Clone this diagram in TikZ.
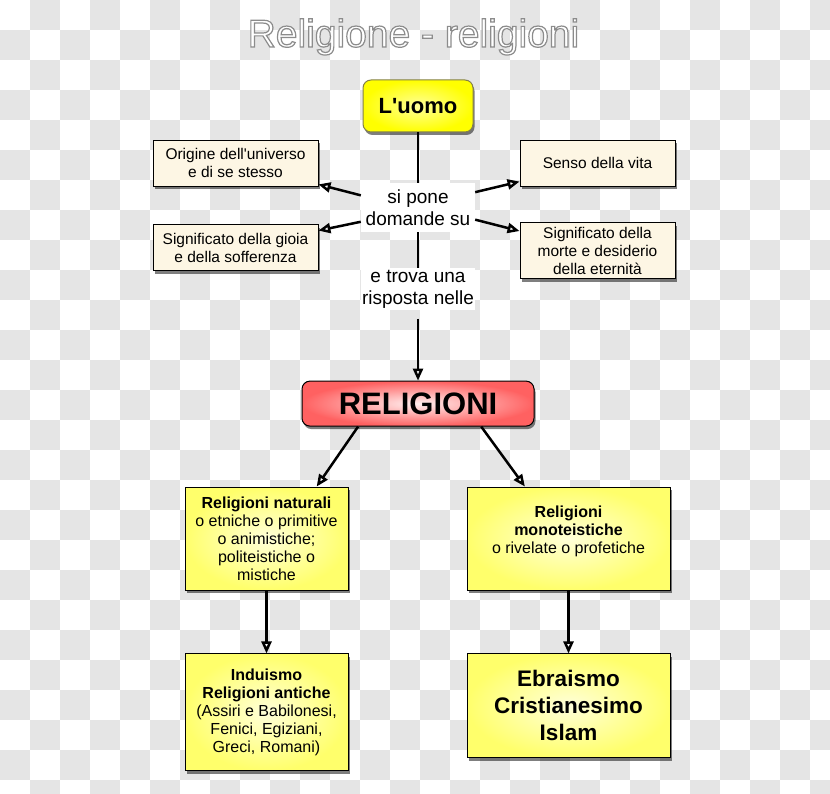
\documentclass[tikz,border=0pt]{standalone}
\usepackage{fontspec}
\setmainfont{Liberation Sans}[Ligatures=TeXOff]
\usetikzlibrary{arrows.meta,positioning,shadows}
\definecolor{crema}{RGB}{253,246,228}
\definecolor{quadro}{RGB}{229,229,229}
% testo bianco con contorno grigio
\newcommand{\contornato}[1]{\special{pdf:literal direct 2 Tr 0.55 G 1.2 w}#1\special{pdf:literal direct 0 Tr}}

\begin{document}
\begin{tikzpicture}[x=1pt, y=-1pt,
    ombra/.style={drop shadow={fill=black, opacity=0.5, shadow xshift=1.5pt, shadow yshift=-3pt}},
    domanda/.style={rectangle, draw, line width=0.9pt, fill=crema, ombra, align=center, inner sep=0pt, minimum height=46pt, font=\fontsize{15.5}{18}\selectfont},
    gruppo/.style={rectangle, draw, line width=0.9pt, ombra, shade, shading=radial, inner color=yellow!15, outer color=yellow!58, align=center, inner sep=0pt, minimum width=163pt, minimum height=103pt, font=\fontsize{16}{18}\selectfont},
    ponte/.style={fill=white, align=center, inner sep=0pt, minimum width=114pt, font=\fontsize{19}{22}\selectfont},
    arrow/.style={-{Triangle[fill=white, length=12pt, width=10pt]}, line width=2.5pt},
    linea/.style={line width=2.5pt}
  ]
    \useasboundingbox (0,0) rectangle (830,794);
    % sfondo a scacchi
    \begin{scope}
      \clip (0,0) rectangle (830,794);
      \foreach \r in {0,...,26}
        \foreach \c in {0,...,13} {
          \pgfmathtruncatemacro\xx{(2*\c+mod(\r+1,2))*30}
          \fill[quadro] (\xx,\r*30) rectangle ++(30,30);
        }
    \end{scope}

    % titolo
    \node[anchor=base, text=white, font=\fontsize{39}{42}\selectfont] (titolo) at (413.5,47) {\contornato{Religione - religioni}};

    \node[rectangle, rounded corners=8pt, draw=black!55!yellow, line width=1pt, ombra, shade, shading=radial, inner color=yellow!40, outer color=yellow, minimum width=110pt, minimum height=52pt, inner sep=0pt, font=\bfseries\fontsize{22}{24}\selectfont] (uomo) at (418,106) {L'uomo};

    \node[ponte, minimum height=49pt] (pone) at (418,207.5) {si pone\\domande su};
    \node[ponte, minimum height=42pt, below=36pt of pone] (trova) {e trova una\\risposta nelle};

    \node[domanda, minimum width=165pt] (origine) at (235.5,163) {Origine dell'universo\\e di se stesso};
    \node[domanda, minimum width=165pt, below=38pt of origine] (gioia) {Significato della gioia\\e della sofferenza};
    \node[domanda, minimum width=155pt] (senso) at (597.5,163) {Senso della vita};
    \node[domanda, minimum width=155pt, minimum height=56pt, below=36pt of senso] (morte) {Significato della\\morte e desiderio\\della eternità};

    \node[rectangle, rounded corners=8pt, draw, line width=1pt, ombra, shade, shading=radial, inner color=red!6, outer color=red!62, minimum width=232pt, minimum height=45pt, inner sep=0pt, font=\bfseries\fontsize{31}{34}\selectfont, below=70pt of trova] (religioni) {RELIGIONI};

    \node[gruppo] (naturali) at (266.5,538.5) {\textbf{Religioni naturali}\\o etniche o primitive\\o animistiche;\\politeistiche o\\mistiche};
    \node[gruppo, minimum width=203pt] (mono) at (568.5,538.5) {\textbf{Religioni}\\\textbf{monoteistiche}\\o rivelate o profetiche\\\mbox{}};
    \node[gruppo, minimum height=117pt, below=63pt of naturali] (induismo) {\textbf{Induismo}\\\textbf{Religioni antiche}\\(Assiri e Babilonesi,\\Fenici, Egiziani,\\Greci, Romani)};
    \node[gruppo, minimum width=203pt, minimum height=104pt, below=63pt of mono, font=\bfseries\fontsize{22.5}{27}\selectfont] (ebraismo) {Ebraismo\\Cristianesimo\\Islam};

    \draw[linea] (uomo) -- (pone);
    \draw[linea] (pone) -- (trova);
    \draw[arrow, shorten <=8pt] (trova) -- (religioni);
    \draw[arrow] (pone.168) -- (origine);
    \draw[arrow] (pone.15) -- (senso);
    \draw[arrow] (pone.194) -- (gioia);
    \draw[arrow] (pone.-12) -- (morte);
    \draw[arrow] (religioni.201) -- (naturali.46);
    \draw[arrow] (religioni.340) -- (mono.130);
    \draw[arrow] (naturali) -- (induismo);
    \draw[arrow] (mono) -- (ebraismo);
  \end{tikzpicture}
\end{document}
